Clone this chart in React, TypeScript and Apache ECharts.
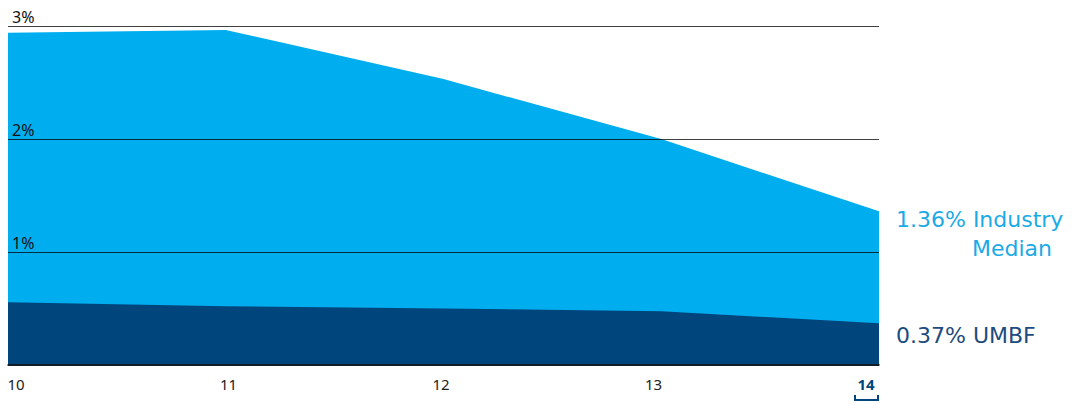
import React, { useEffect, useRef } from "react";
import * as echarts from "echarts";

const years = ["10", "11", "12", "13", "14"];
const industryMedian = [2.94, 2.965, 2.53, 2.0, 1.36];
const umbf = [0.555, 0.52, 0.5, 0.475, 0.37];
const yTicks = [0, 1, 2, 3];

const LIGHT = "#00AEEF";
const DARK = "#00457C";
const FONT = "'Noto Sans', sans-serif";
const WIDE = "'DejaVu Sans', sans-serif";

export default function App() {
  const ref = useRef<HTMLDivElement>(null);

  useEffect(() => {
    if (!ref.current) return;
    const chart = echarts.init(ref.current, null, { renderer: "svg" });
    const last = years.length - 1;
    const fmt = (v: number) => v.toFixed(2) + "%";

    chart.setOption({
      animation: false,
      grid: [
        { left: 8, right: 199, top: 26, bottom: 39 },
        { left: 16, right: 212, top: 26, bottom: 39 },
      ],
      xAxis: [
        {
          type: "category",
          gridIndex: 0,
          data: years,
          boundaryGap: false,
          z: 3,
          axisLine: { show: true, lineStyle: { color: "#111", width: 1.5 } },
          axisTick: { show: false },
          axisLabel: { show: false },
          splitLine: { show: false },
        },
        {
          type: "category",
          gridIndex: 1,
          data: years,
          boundaryGap: false,
          axisLine: { show: false },
          axisTick: { show: false },
          splitLine: { show: false },
          axisLabel: {
            margin: 11,
            fontFamily: FONT,
            fontSize: 15,
            color: "#222",
            formatter: (v: string, i: number) =>
              i === last ? `{b|${v}}` : v,
            rich: {
              b: { fontFamily: FONT, fontSize: 15, fontWeight: "bold", color: DARK },
            },
          },
        },
      ],
      yAxis: [
        {
          type: "value",
          gridIndex: 0,
          min: 0,
          max: 3,
          interval: 1,
          z: 3,
          axisLine: { show: false },
          axisTick: { show: false },
          splitLine: { show: true, lineStyle: { color: "rgba(0,0,0,0.75)", width: 1 } },
          axisLabel: {
            inside: true,
            margin: 4,
            verticalAlign: "bottom",
            padding: [0, 0, 1, 0],
            fontFamily: FONT,
            fontSize: 16,
            color: "#111",
            formatter: (v: number) => (v === yTicks[0] ? "" : v + "%"),
          },
        },
        {
          type: "value",
          gridIndex: 1,
          min: 0,
          max: 3,
          show: false,
        },
      ],
      series: [
        {
          name: "Industry Median",
          type: "line",
          xAxisIndex: 0,
          yAxisIndex: 0,
          data: industryMedian,
          symbol: "none",
          lineStyle: { width: 0 },
          areaStyle: { color: LIGHT, opacity: 1 },
          z: 1,
        },
        {
          name: "UMBF",
          type: "line",
          xAxisIndex: 0,
          yAxisIndex: 0,
          data: umbf,
          symbol: "none",
          lineStyle: { width: 0 },
          areaStyle: { color: DARK, opacity: 1 },
          z: 2,
        },
      ],
      graphic: [
        {
          type: "text",
          left: 896,
          top: 208,
          style: {
            text: `${fmt(industryMedian[last])} Industry`,
            font: `22px ${WIDE}`,
            fill: "#1BAAE6",
          },
        },
        {
          type: "text",
          left: 972,
          top: 237,
          style: { text: "Median", font: `22px ${WIDE}`, fill: "#1BAAE6" },
        },
        {
          type: "text",
          left: 896,
          top: 324,
          style: {
            text: `${fmt(umbf[last])} UMBF`,
            font: `22px ${WIDE}`,
            fill: "#1E4B7D",
          },
        },
        {
          type: "polyline",
          shape: { points: [[855, 395], [855, 400], [878, 400], [878, 395]] },
          style: { stroke: DARK, lineWidth: 2, fill: null },
        },
      ],
    });

    return () => chart.dispose();
  }, []);

  return (
    <div
      ref={ref}
      style={{ position: "absolute", left: 0, top: 0, width: 1078, height: 404 }}
    />
  );
}
